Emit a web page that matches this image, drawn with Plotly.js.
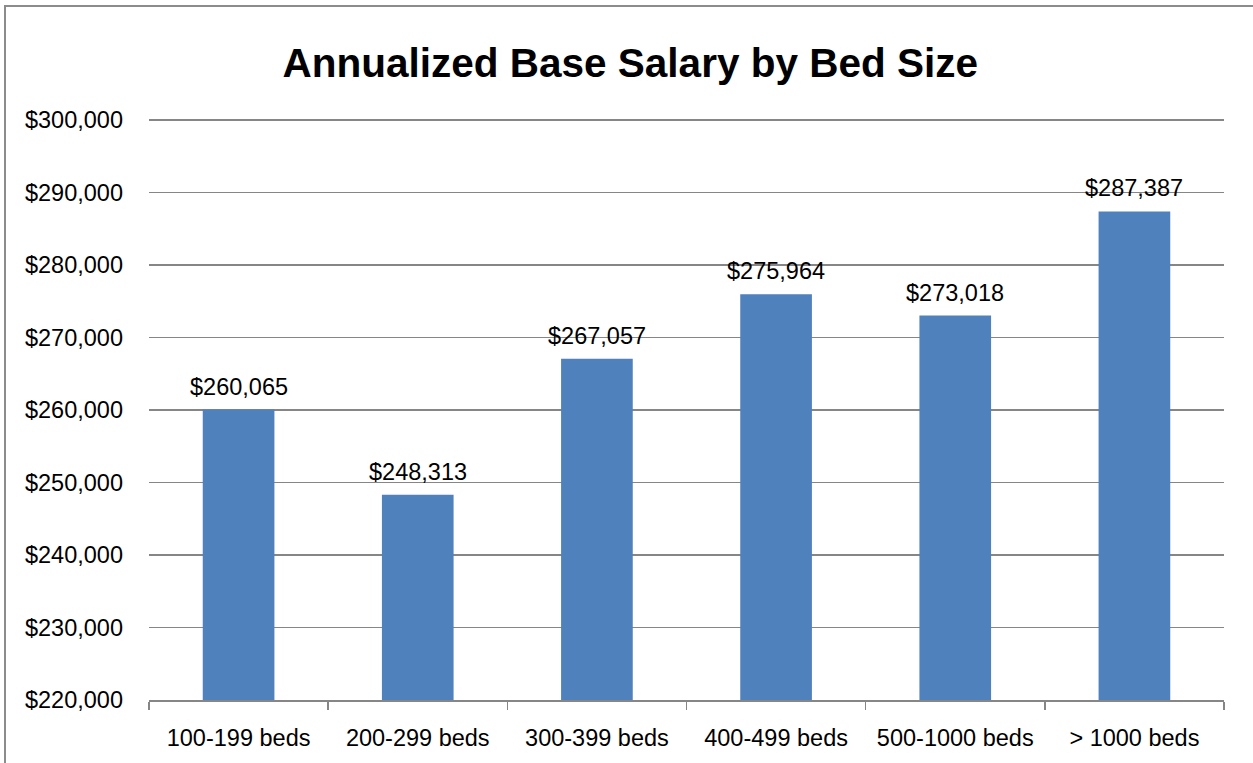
<!DOCTYPE html>
<html><head><meta charset="utf-8">
<script src="https://cdn.plot.ly/plotly-3.0.1.min.js"></script>
<style>html,body{margin:0;padding:0;background:#fff;}#chart{width:1253px;height:763px;}</style>
</head><body><div id="chart"></div>
<script>
const categories = ["100-199 beds","200-299 beds","300-399 beds","400-499 beds","500-1000 beds","> 1000 beds"];
const salaries = [260065, 248313, 267057, 275964, 273018, 287387];
const yTicks = [220000,230000,240000,250000,260000,270000,280000,290000,300000];

const fmt = v => "$" + v.toLocaleString("en-US");
const FONT = "Liberation Sans, Arial, sans-serif";

const trace = {
  type: "bar",
  x: categories,
  y: salaries,
  marker: {color: "#4F81BD"},
  hoverinfo: "none"
};

const L = 149, R = 29, T = 118, B = 63, W = 1253, H = 763;
const pw = W - L - R, ph = H - T - B;
const yMin = 220000, yMaxGrid = 300000;
const yTop = yMaxGrid + (yMaxGrid - yMin) * 2 / (ph - 2);

const annotations = salaries.map((v, i) => ({
  x: categories[i], y: v, xref: "x", yref: "y",
  text: fmt(v), showarrow: false,
  xanchor: "center", yanchor: "bottom", yshift: 8,
  font: {family: FONT, size: 23.5, color: "#000"}
}));

const layout = {
  width: W, height: H,
  margin: {l: L, r: R, t: T, b: B, pad: 0},
  paper_bgcolor: "#fff", plot_bgcolor: "#fff",
  showlegend: false,
  bargap: 0.6,
  title: {text: "Annualized Base Salary by Bed Size", x: 0.503, xanchor: "center", y: 0.918, yanchor: "middle",
          font: {family: FONT, size: 40.5, color: "#000", weight: "bold"}},
  xaxis: {
    type: "category",
    showline: true, linecolor: "#868686", linewidth: 1.5,
    ticks: "outside", tickson: "boundaries", ticklen: 8, tickcolor: "#868686", tickwidth: 1.5,
    tickfont: {family: FONT, size: 23.5, color: "#000"},
    ticklabelstandoff: 16,
    showgrid: false
  },
  yaxis: {
    range: [yMin, yTop],
    tickvals: yTicks, ticktext: yTicks.map(fmt),
    tickfont: {family: FONT, size: 23.5, color: "#000"},
    showgrid: true, gridcolor: "#868686", gridwidth: 1.5,
    zeroline: false, showline: false, ticks: "",
    ticklabelstandoff: 25
  },
  annotations: annotations,
  shapes: [{
    type: "rect", xref: "paper", yref: "paper",
    x0: (5 - L) / pw, x1: (W + 5 - L) / pw,
    y0: (H - B - (H + 5)) / ph, y1: (H - B - 6) / ph,
    line: {color: "#8c8c8c", width: 2}, fillcolor: "rgba(0,0,0,0)", layer: "below"
  }]
};

Plotly.newPlot("chart", [trace], layout, {displayModeBar: false, staticPlot: true});
</script></body></html>
